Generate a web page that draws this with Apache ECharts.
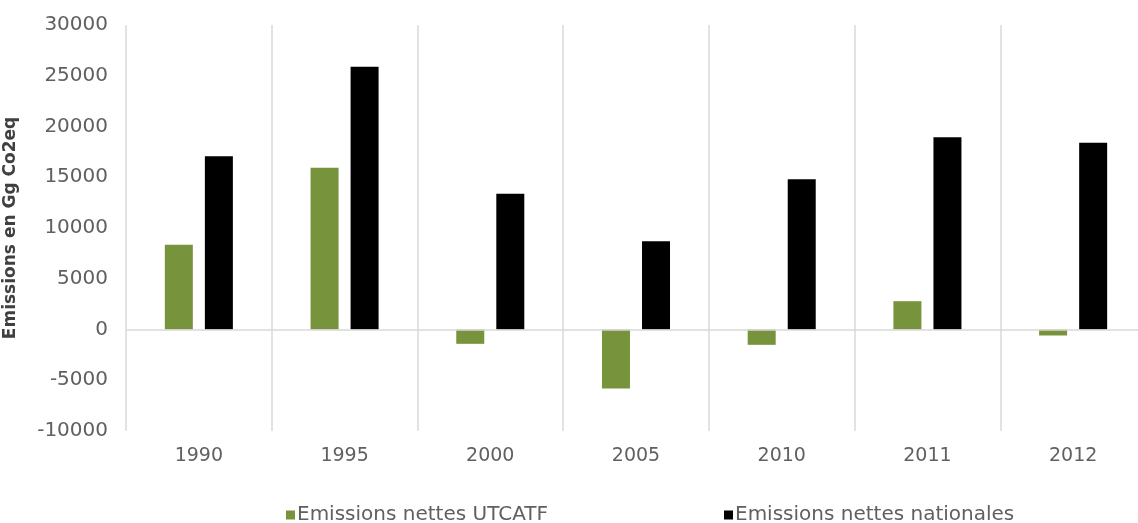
<!DOCTYPE html>
<html>
<head>
<meta charset="utf-8">
<script src="https://cdn.jsdelivr.net/npm/echarts@6/dist/echarts.min.js"></script>
<style>
  html, body { margin: 0; padding: 0; background: #fff; }
  #chart { width: 1138px; height: 523px; }
</style>
</head>
<body>
<div id="chart"></div>
<script>
var years = ['1990', '1995', '2000', '2005', '2010', '2011', '2012'];
var utcatf = [8350, 15930, -1410, -5810, -1510, 2790, -590];
var nationales = [17070, 25880, 13370, 8700, 14810, 18950, 18390];
var seriesNames = ['Emissions nettes UTCATF', 'Emissions nettes nationales'];

var textColor = '#606060';
var font = '"DejaVu Sans", sans-serif';

var chart = echarts.init(document.getElementById('chart'));
var option = {
  animation: false,
  grid: {
    left: 126,
    right: -8,
    top: 25,
    bottom: 92,
    containLabel: false,
    outerBoundsMode: 'none'
  },
  legend: [
    {
      data: [seriesNames[0]],
      left: 281,
      top: 500,
      itemWidth: 9,
      itemHeight: 9,
      icon: 'rect',
      textStyle: { color: textColor, fontSize: 20, fontFamily: font, padding: [0, 0, 0, -3] }
    },
    {
      data: [seriesNames[1]],
      left: 719,
      top: 500,
      itemWidth: 9,
      itemHeight: 9,
      icon: 'rect',
      textStyle: { color: textColor, fontSize: 20, fontFamily: font, padding: [0, 0, 0, -3] }
    }
  ],
  xAxis: {
    type: 'category',
    data: years,
    axisLine: { show: false, onZero: false },
    axisTick: { show: false },
    axisLabel: { color: textColor, fontSize: 19, fontFamily: font, margin: 16 },
    splitLine: { show: true, lineStyle: { color: '#d9d9d9', width: 1.5 } }
  },
  yAxis: {
    type: 'value',
    min: -10000,
    max: 30000,
    interval: 5000,
    name: 'Emissions en Gg Co2eq',
    nameLocation: 'middle',
    nameGap: 107,
    nameTextStyle: { color: '#404040', fontSize: 17, fontWeight: 'bold', fontFamily: font },
    axisLine: { show: false },
    axisTick: { show: false },
    axisLabel: {
      color: textColor,
      fontSize: 20,
      fontFamily: font,
      margin: 18,
      formatter: function (v) { return String(v); }
    },
    splitLine: { show: false }
  },
  series: [
    {
      name: seriesNames[0],
      type: 'bar',
      data: utcatf,
      barWidth: 28,
      barGap: '43%',
      itemStyle: { color: '#77933c' },
      markLine: {
        silent: true,
        symbol: 'none',
        label: { show: false },
        lineStyle: { color: '#d9d9d9', type: 'solid', width: 1.5 },
        data: [{ yAxis: 0 }]
      }
    },
    {
      name: seriesNames[1],
      type: 'bar',
      data: nationales,
      barWidth: 28,
      itemStyle: { color: '#000000' }
    }
  ]
};
chart.setOption(option);
</script>
</body>
</html>
